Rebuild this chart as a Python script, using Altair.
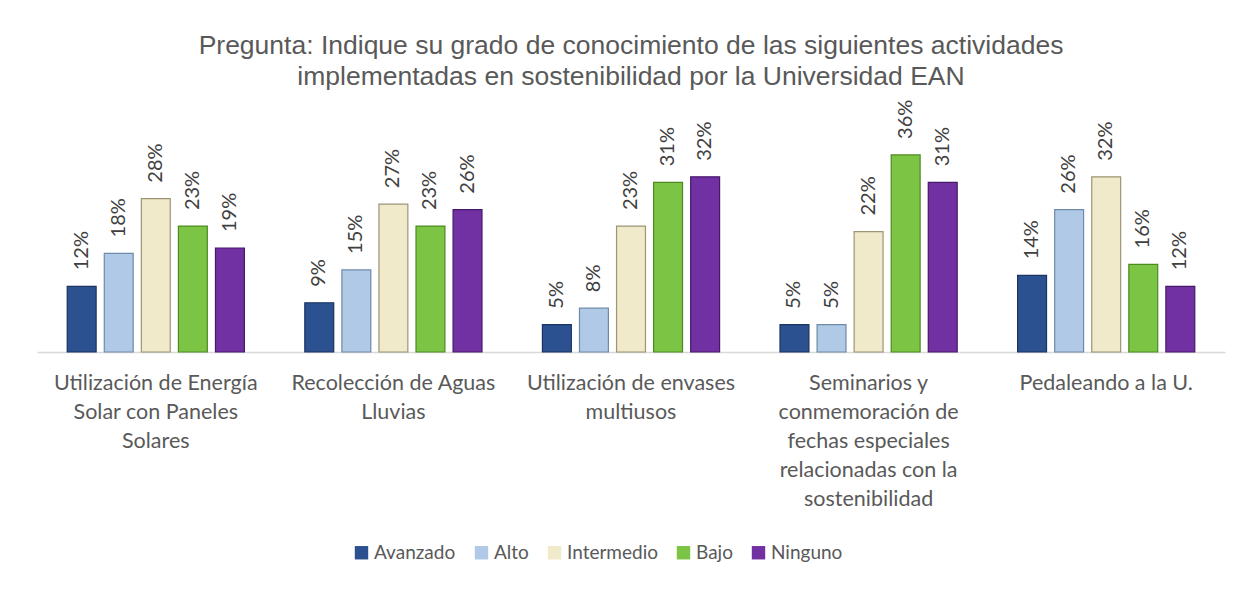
import altair as alt
import pandas as pd

categories = [
    "Utilización de Energía Solar con Paneles Solares",
    "Recolección de Aguas Lluvias",
    "Utilización de envases multiusos",
    "Seminarios y conmemoración de fechas especiales relacionadas con la sostenibilidad",
    "Pedaleando a la U.",
]
label_lines = [
    ["Utilización de Energía", "Solar con Paneles", "Solares"],
    ["Recolección de Aguas", "Lluvias"],
    ["Utilización de envases", "multiusos"],
    ["Seminarios y", "conmemoración de", "fechas especiales", "relacionadas con la", "sostenibilidad"],
    ["Pedaleando a la U."],
]
series = ["Avanzado", "Alto", "Intermedio", "Bajo", "Ninguno"]
avanzado = [12, 9, 5, 5, 14]
alto = [18, 15, 8, 5, 26]
intermedio = [28, 27, 23, 22, 32]
bajo = [23, 23, 31, 36, 16]
ninguno = [19, 26, 32, 31, 12]
colors = ["#2B5190", "#B0C9E6", "#F0E9CA", "#7CC443", "#7131A3"]
strokes = ["#1A3360", "#6F8AA8", "#9C9475", "#4E8A22", "#47186A"]

rows = []
for s, vals in zip(series, [avanzado, alto, intermedio, bajo, ninguno]):
    for c, v in zip(categories, vals):
        rows.append({"cat": c, "serie": s, "valor": v})
df = pd.DataFrame(rows)

expr = "''"
for c, lines in reversed(list(zip(categories, label_lines))):
    arr = "[" + ",".join("'" + l + "'" for l in lines) + "]"
    expr = f"datum.label == '{c}' ? {arr} : ({expr})"

FONT = "Lato"

base = alt.Chart(df).encode(
    x=alt.X(
        "cat:N",
        sort=categories,
        scale=alt.Scale(paddingInner=0.22, paddingOuter=0.11),
        axis=alt.Axis(
            title=None,
            labelAngle=0,
            labelExpr=expr,
            labelFont=FONT,
            labelFontSize=21.5,
            labelColor="#595959",
            labelLineHeight=29,
            labelPadding=20,
            labelBaseline="top",
            labelLimit=0,
            ticks=False,
            domainColor="#D9D9D9",
            domainWidth=1.5,
        ),
    ),
    xOffset=alt.XOffset("serie:N", sort=series,
                        scale=alt.Scale(paddingInner=0.22, paddingOuter=0.11)),
    y=alt.Y("valor:Q", scale=alt.Scale(domain=[0, 40]), axis=None),
)

bars = base.mark_bar(strokeWidth=1.2).encode(
    color=alt.Color(
        "serie:N",
        sort=series,
        scale=alt.Scale(domain=series, range=colors),
        legend=alt.Legend(
            orient="none",
            legendX=315,
            legendY=410,
            direction="horizontal",
            columns=5,
            title=None,
            symbolType="square",
            symbolSize=180,
            symbolStrokeWidth=0,
            labelFont=FONT,
            labelFontSize=19,
            labelColor="#595959",
            columnPadding=16,
            labelOffset=3,
        ),
    ),
    stroke=alt.Stroke("serie:N", sort=series,
                      scale=alt.Scale(domain=series, range=strokes), legend=None),
)

labels = base.transform_calculate(
    etiqueta="datum.valor + '%'"
).mark_text(
    angle=270, align="left", baseline="middle", dx=16,
    font=FONT, fontSize=20, color="#404040",
).encode(text="etiqueta:N")

chart = alt.layer(bars, labels).properties(
    width=1188,
    height=219,
    autosize=alt.AutoSizeParams(type="none"),
    padding={"left": 29, "top": 125, "right": 8, "bottom": 230},
    title=alt.TitleParams(
        text=["Pregunta: Indique su grado de conocimiento de las siguientes actividades",
              "implementadas en sostenibilidad  por la Universidad EAN"],
        font="Liberation Sans",
        fontSize=26.5,
        fontWeight="normal",
        color="#595959",
        anchor="middle",
        frame="group",
        offset=9,
        lineHeight=31,
    ),
).configure(
    background="white",
    view=alt.ViewConfig(stroke="transparent", strokeWidth=0),
)

chart.save("out.html", embed_options={"renderer": "svg", "actions": False})
